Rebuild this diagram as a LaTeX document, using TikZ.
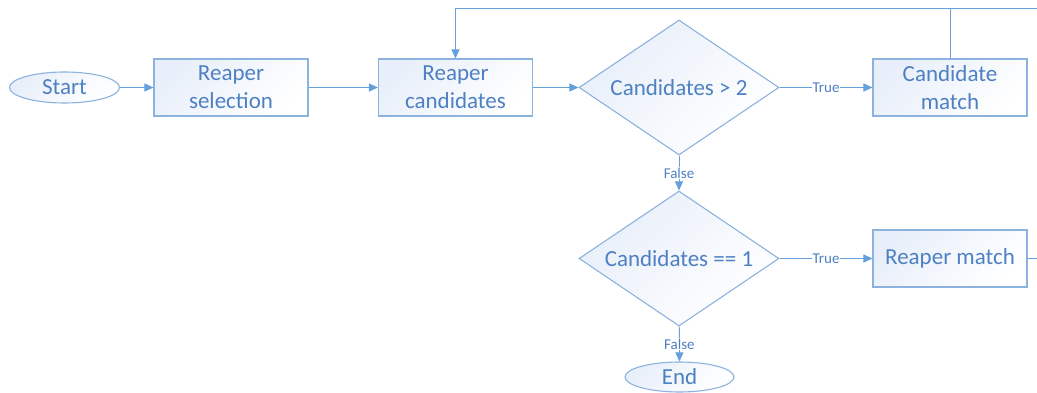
\documentclass[tikz,border=0pt]{standalone}
\usepackage{fontspec}
\setmainfont{Carlito}
\usetikzlibrary{shapes.geometric,arrows.meta}
\definecolor{linec}{RGB}{100,160,218}
\definecolor{borderc}{RGB}{140,178,222}
\definecolor{textc}{RGB}{78,128,194}
\definecolor{fillc}{RGB}{232,239,250}
\tikzset{
  base/.style={draw=borderc, line width=1.1pt, text=textc, font=\fontsize{23}{28}\selectfont,
    top color=fillc, bottom color=white, shading angle=45, align=center, inner sep=0pt},
  procbox/.style={base, rectangle, minimum width=154pt, minimum height=57pt},
  decision/.style={base, diamond, aspect=1.48, minimum width=200pt, minimum height=135pt},
  terminal/.style={base, ellipse, minimum width=110pt, minimum height=31pt},
  flow/.style={draw=linec, line width=0.9pt, -{Triangle[length=9pt,width=8pt]}},
  plain/.style={draw=linec, line width=0.9pt},
  lbl/.style={fill=white, text=textc, font=\fontsize{15}{17}\selectfont, inner sep=1pt}
}
\begin{document}
\begin{tikzpicture}[x=1pt,y=1pt]
  \useasboundingbox (0,0) rectangle (1037,-393);
  % process steps, decisions and terminals
  \node[terminal] (start) at (64.5,-87.5) {Start};
  \node[procbox] (sel) at (231,-87.5) {Reaper\\selection};
  \node[procbox] (cand) at (455.5,-87.5) {Reaper\\candidates};
  \node[decision] (gt) at (679,-87.5) {Candidates > 2};
  \node[procbox] (cmatch) at (950,-87.5) {Candidate\\match};
  \node[decision] (eq) at (679,-258.5) {Candidates == 1};
  \node[procbox] (rmatch) at (950,-258.5) {Reaper match};
  \node[terminal, minimum width=109pt, minimum height=30pt] (end) at (679.5,-377) {End};
  % loop corners and free ends
  \coordinate (topr) at (950,-8);
  \coordinate (topl) at (455.5,-8);
  \coordinate (edgetop) at (1037,-8);
  \coordinate (edgemid) at (1037,-258.5);
  % connectors
  \draw[flow] (start) -- (sel);
  \draw[flow] (sel) -- (cand);
  \draw[flow] (cand) -- (gt);
  \draw[flow] (gt) -- node[lbl] {True} (cmatch);
  \draw[flow] (gt) -- node[lbl] {False} (eq);
  \draw[flow] (eq) -- node[lbl] {True} (rmatch);
  \draw[flow] (eq) -- node[lbl] {False} (end);
  \draw[flow] (cmatch.north) -- (topr) -- (topl) -- (cand.north);
  \draw[plain] (topr) -- (edgetop);
  \draw[plain] (rmatch.east) -- (edgemid);
\end{tikzpicture}
\end{document}
